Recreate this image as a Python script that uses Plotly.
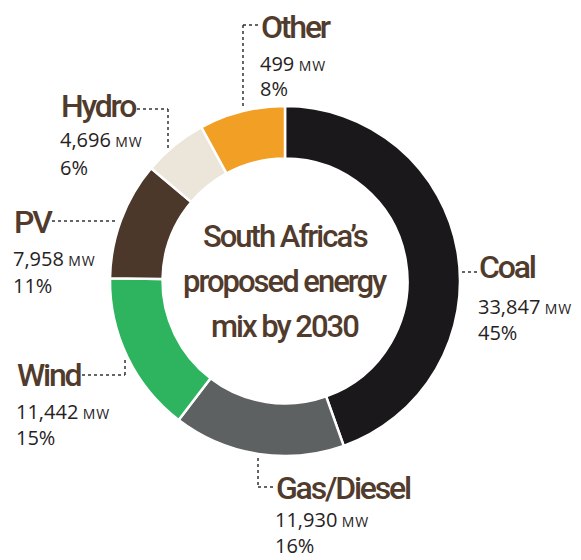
import plotly.graph_objects as go

W, H = 581, 560
OFF = 8                      # browser body margin
WF, HF = W - OFF, H - OFF    # figure size

labels = ["Coal", "Gas/Diesel", "Wind", "PV", "Hydro", "Other"]
megawatts = ["33,847", "11,930", "11,442", "7,958", "4,696", "499"]
percents = [45, 16, 15, 11, 6, 8]
colors = ["#1b181c", "#5e6161", "#2eb45e", "#4b382b", "#ebe6d9", "#f29f26"]
center_title = ["South Africa’s", "proposed energy", "mix by 2030"]

TITLE_FONT = "Roboto, Liberation Sans, sans-serif"
VALUE_FONT = "Open Sans, Noto Sans, sans-serif"
BROWN = "#513b2d"
DARK = "#262223"


def px(x):
    return (x - OFF) / WF


def py(y):
    return 1 - (y - OFF) / HF


def tight(s, ls):
    return f"<span style='letter-spacing:{ls}px'>{s}</span>"


fig = go.Figure()
fig.add_trace(go.Pie(
    labels=labels,
    values=percents,
    sort=False,
    direction="clockwise",
    rotation=0,
    hole=0.70,
    textinfo="none",
    hoverinfo="label+percent",
    marker=dict(colors=colors, line=dict(color="white", width=2.5)),
    domain=dict(x=[px(110), px(460)], y=[py(456), py(106)]),
    showlegend=False,
))

# label layout: (title x, title y, value y, pct y)
label_pos = {
    "Coal": (480, 267, 306, 332),
    "Gas/Diesel": (277, 488, 519, 545),
    "Wind": (18, 375, 411, 437),
    "PV": (15, 222, 258, 285),
    "Hydro": (62, 106, 140, 167),
    "Other": (262, 27, 63, 89),
}

annotations = []
for lab, mw, pct in zip(labels, megawatts, percents):
    tx, ty, vy, ppy = label_pos[lab]
    annotations.append(dict(
        x=px(tx - 2), y=py(ty), xref="paper", yref="paper", xanchor="left", yanchor="middle",
        text=tight(lab, -2.2), showarrow=False, borderpad=0,
        font=dict(family=TITLE_FONT, size=32, color=BROWN, weight=500)))
    annotations.append(dict(
        x=px(tx - 3), y=py(vy), xref="paper", yref="paper", xanchor="left", yanchor="middle",
        text=f"{mw}<span style='font-size:14px;letter-spacing:0.8px'> MW</span>", showarrow=False,
        borderpad=0, font=dict(family=VALUE_FONT, size=20, color=DARK)))
    annotations.append(dict(
        x=px(tx - 3), y=py(ppy), xref="paper", yref="paper", xanchor="left", yanchor="middle",
        text=f"{pct}%", showarrow=False, borderpad=0,
        font=dict(family=VALUE_FONT, size=20, color=DARK)))

for i, line in enumerate(center_title):
    annotations.append(dict(
        x=px(285), y=py(236 + 45 * i), xref="paper", yref="paper", xanchor="center", yanchor="middle",
        text=tight(line, -2), showarrow=False, borderpad=0,
        font=dict(family=TITLE_FONT, size=31, color=BROWN, weight=500)))

# dotted leader lines (pixel paths)
leaders = [
    [(462, 272), (478, 272)],                  # Coal
    [(258, 458), (258, 487), (274, 487)],      # Gas/Diesel
    [(82, 375), (125, 375), (125, 360)],       # Wind
    [(52, 221), (118, 221)],                   # PV
    [(137, 109), (168, 109), (168, 148)],      # Hydro
    [(258, 25), (243, 25), (243, 108)],        # Other
]
shapes = []
for path in leaders:
    for (x0, y0), (x1, y1) in zip(path[:-1], path[1:]):
        shapes.append(dict(type="line", xref="paper", yref="paper",
                           x0=px(x0), y0=py(y0), x1=px(x1), y1=py(y1),
                           line=dict(color="#333333", width=1.5, dash="dot")))

fig.update_layout(
    width=WF, height=HF,
    margin=dict(l=0, r=0, t=0, b=0),
    paper_bgcolor="white", plot_bgcolor="white",
    annotations=annotations,
    shapes=shapes,
)

fig.write_html("out.html")
